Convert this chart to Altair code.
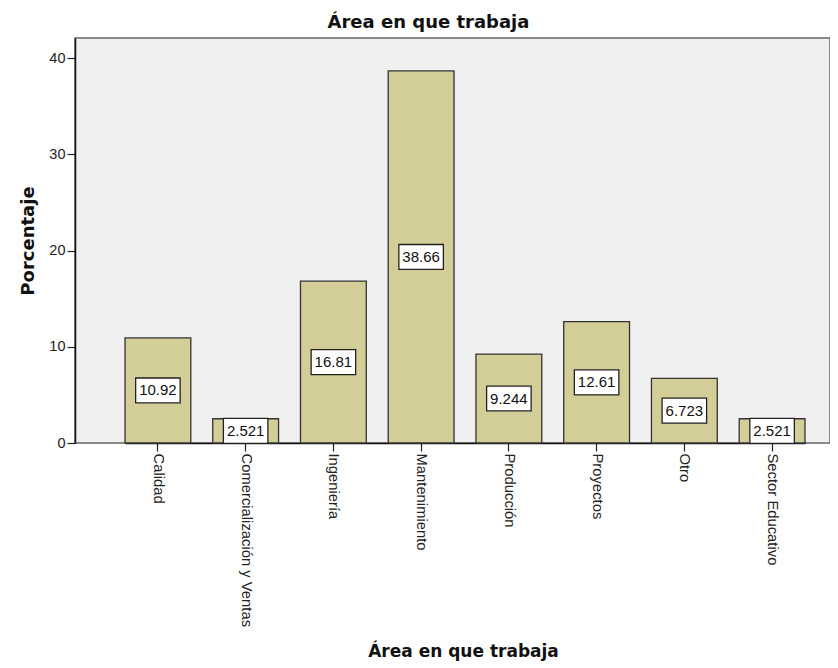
import altair as alt
import pandas as pd

categories = ["Calidad", "Comercialización y Ventas", "Ingeniería", "Mantenimiento",
              "Producción", "Proyectos", "Otro", "Sector Educativo"]
values = [10.92, 2.521, 16.81, 38.66, 9.244, 12.61, 6.723, 2.521]
labels = ["10.92", "2.521", "16.81", "38.66", "9.244", "12.61", "6.723", "2.521"]
y_ticks = [0, 10, 20, 30, 40]

df = pd.DataFrame({"cat": categories, "val": values, "lab": labels})
df["mid"] = df["val"] / 2

xscale = alt.Scale(domain=categories, range=[50, 730], paddingInner=0.25, paddingOuter=0)
yscale = alt.Scale(domain=[0, 42.08], nice=False, zero=True)

x_enc = alt.X("cat:N", scale=xscale, sort=categories,
              axis=alt.Axis(title="Área en que trabaja", labelAngle=90, labelAlign="left",
                            labelBaseline="middle", labelFont="Liberation Sans", labelFontSize=14.8,
                            labelColor="#222", tickColor="#222", tickSize=8, tickWidth=1.2,
                            domainColor="#111", domainWidth=1.5, labelPadding=2,
                            titleFont="DejaVu Sans", titleFontSize=17, titleFontWeight="bold",
                            titleColor="#111", titleX=388, titleY=213, titleBaseline="alphabetic",
                            titleAnchor="middle", grid=False, labelOverlap=False))

bars = alt.Chart(df).mark_bar(color="#D3CE97", stroke="#333", strokeWidth=1.3).encode(
    x=x_enc,
    y=alt.Y("val:Q", scale=yscale,
            axis=alt.Axis(title="Porcentaje", values=y_ticks, grid=False,
                          labelFont="Liberation Sans", labelFontSize=14.5, labelColor="#222",
                          tickColor="#222", tickSize=8, tickWidth=1.2, domainColor="#111",
                          domainWidth=1.5, labelPadding=2,
                          titleFont="DejaVu Sans", titleFontSize=18, titleFontWeight="bold",
                          titleColor="#111", titlePadding=11)),
)

box_path = "M-1,-0.56L1,-0.56L1,0.56L-1,0.56Z"
boxes = alt.Chart(df).mark_point(shape=box_path, size=1980, filled=True, fill="white",
                                 stroke="#222", strokeWidth=1.3, opacity=1).encode(
    x=alt.X("cat:N", scale=xscale, sort=categories),
    y=alt.Y("mid:Q", scale=yscale),
)

texts = alt.Chart(df).mark_text(font="Liberation Sans", fontSize=15, color="#111",
                                baseline="middle", align="center").encode(
    x=alt.X("cat:N", scale=xscale, sort=categories),
    y=alt.Y("mid:Q", scale=yscale),
    text="lab:N",
)

chart = alt.layer(bars, boxes, texts).properties(
    width=755, height=405,
    background="white",
    autosize=alt.AutoSizeParams(type="none"),
    padding={"left": 67, "top": 30, "right": 0, "bottom": 222},
    title=alt.TitleParams("Área en que trabaja", font="DejaVu Sans", fontSize=18,
                          fontWeight="bold", color="#111", anchor="middle", dx=-24, offset=6),
).configure_view(fill="#F0F0F0", stroke="#666", strokeWidth=1.5)

chart.save("out.html", embed_options={"renderer": "svg", "actions": False})
